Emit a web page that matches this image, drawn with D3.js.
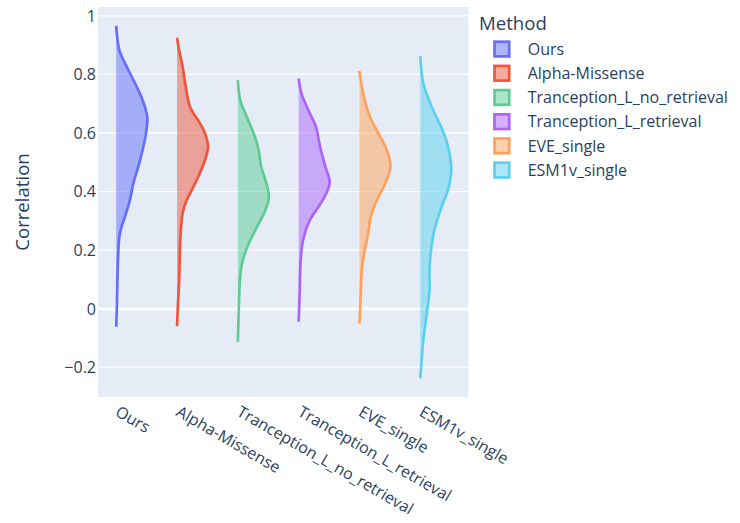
<!DOCTYPE html>
<html>
<head>
<meta charset="utf-8">
<script src="https://cdn.jsdelivr.net/npm/d3@7"></script>
<style>
  body { margin: 0; background: #fff; }
  svg { display: block; font-family: "Open Sans", verdana, arial, sans-serif; }
</style>
</head>
<body>
<svg id="chart" width="740" height="523"></svg>
<script>
// categories and palette
var categories = ['Ours', 'Alpha-Missense', 'Tranception_L_no_retrieval',
                  'Tranception_L_retrieval', 'EVE_single', 'ESM1v_single'];
var colors = ['#636efa', '#EF553B', '#5ccb94', '#ab63fa', '#FFA15A', '#5ccfee'];
var yTicks = [-0.2, 0, 0.2, 0.4, 0.6, 0.8, 1];

// density profiles: [correlation, relative density]
var oursProfile = [[0.966, 0], [0.883, 0.1], [0.826, 0.34], [0.758, 0.66], [0.712, 0.85],
    [0.655, 1.0], [0.599, 0.96], [0.542, 0.85], [0.485, 0.71], [0.428, 0.55], [0.371, 0.44],
    [0.314, 0.28], [0.28, 0.17], [0.246, 0.1], [0.19, 0.065], [0.088, 0.035], [0.007, 0.02], [-0.061, 0]];
var alphaProfile = [[0.925, 0], [0.883, 0.065], [0.826, 0.18], [0.758, 0.28], [0.689, 0.42],
    [0.633, 0.74], [0.599, 0.9], [0.553, 1.0], [0.507, 0.9], [0.45, 0.68], [0.394, 0.42],
    [0.371, 0.31], [0.326, 0.18], [0.28, 0.13], [0.223, 0.1], [0.087, 0.065], [0.007, 0.025], [-0.059, 0]];
var tranNoRetProfile = [[0.78, 0], [0.712, 0.075], [0.667, 0.24], [0.599, 0.51], [0.542, 0.67],
    [0.485, 0.75], [0.44, 0.89], [0.382, 1.0], [0.337, 0.89], [0.28, 0.62], [0.223, 0.35],
    [0.166, 0.16], [0.109, 0.075], [0.03, 0.04], [-0.113, 0]];
var tranRetProfile = [[0.786, 0], [0.735, 0.09], [0.667, 0.36], [0.621, 0.56], [0.553, 0.69],
    [0.485, 0.86], [0.433, 1.0], [0.394, 0.89], [0.348, 0.64], [0.303, 0.36], [0.234, 0.14],
    [0.166, 0.066], [0.053, 0.033], [-0.044, 0]];
var eveProfile = [[0.812, 0], [0.735, 0.12], [0.655, 0.34], [0.599, 0.61], [0.542, 0.88],
    [0.485, 1.0], [0.428, 0.83], [0.371, 0.56], [0.314, 0.36], [0.257, 0.28], [0.2, 0.17],
    [0.143, 0.085], [0.03, 0.035], [-0.05, 0]];
var esmProfile = [[0.862, 0], [0.769, 0.1], [0.689, 0.37], [0.599, 0.76], [0.542, 0.92],
    [0.473, 1.0], [0.405, 0.89], [0.337, 0.65], [0.257, 0.43], [0.143, 0.3], [0.064, 0.3],
    [-0.016, 0.21], [-0.107, 0.1], [-0.175, 0.045], [-0.237, 0]];
var profiles = [oursProfile, alphaProfile, tranNoRetProfile, tranRetProfile, eveProfile, esmProfile];

var svg = d3.select('#chart');
var plot = {left: 98, right: 468.3, top: 7, bottom: 397};
var textColor = '#2a3f5f';
var halfWidth = 0.51; // max violin width, in category units

var x = d3.scaleLinear().domain([-0.3, 5.79]).range([plot.left, plot.right]);
var y = d3.scaleLinear().domain([-0.301, 1.03]).range([plot.bottom, plot.top]);

// background
svg.append('rect')
    .attr('x', plot.left).attr('y', plot.top)
    .attr('width', plot.right - plot.left).attr('height', plot.bottom - plot.top)
    .attr('fill', '#E5ECF6');

// horizontal grid
svg.append('g').selectAll('line').data(yTicks).enter().append('line')
    .attr('x1', plot.left).attr('x2', plot.right)
    .attr('y1', function(d) { return y(d); }).attr('y2', function(d) { return y(d); })
    .attr('stroke', '#fff')
    .attr('stroke-width', function(d) { return d === 0 ? 2.67 : 1.33; });

// y tick labels
svg.append('g').selectAll('text').data(yTicks).enter().append('text')
    .attr('x', 96).attr('y', function(d) { return y(d); })
    .attr('dy', '0.36em')
    .attr('text-anchor', 'end')
    .attr('font-size', 16).attr('fill', textColor)
    .text(function(d) { return d === 0 ? '0' : d3.format('.1f')(d).replace('-', '\u2212').replace('1.0', '1'); });

// y title
svg.append('text')
    .attr('transform', 'translate(29,' + ((plot.top + plot.bottom) / 2) + ') rotate(-90)')
    .attr('text-anchor', 'middle')
    .attr('font-size', 18.6).attr('fill', textColor)
    .text('Correlation');

// violins (positive side only)
var violins = svg.append('g');
profiles.forEach(function(prof, i) {
    var base = x(i);
    var area = d3.area()
        .y(function(d) { return y(d[0]); })
        .x0(base)
        .x1(function(d) { return x(i + d[1] * halfWidth); })
        .curve(d3.curveCatmullRom.alpha(0.5));
    var line = d3.line()
        .y(function(d) { return y(d[0]); })
        .x(function(d) { return x(i + d[1] * halfWidth); })
        .curve(d3.curveCatmullRom.alpha(0.5));

    violins.append('path')
        .attr('d', area(prof))
        .attr('fill', colors[i]).attr('fill-opacity', 0.5);
    violins.append('path')
        .attr('d', line(prof))
        .attr('fill', 'none')
        .attr('stroke', colors[i]).attr('stroke-width', 2.67)
        .attr('stroke-linejoin', 'round');
});

// x tick labels, angled
svg.append('g').selectAll('text').data(categories).enter().append('text')
    .attr('transform', function(d, i) {
        return 'translate(' + (x(i) - 2) + ',415) rotate(30)';
    })
    .attr('text-anchor', 'start')
    .attr('font-size', 16).attr('fill', textColor)
    .text(function(d) { return d; });

// legend
var legend = svg.append('g');
legend.append('text')
    .attr('x', 479).attr('y', 30)
    .attr('font-size', 18.6).attr('fill', textColor)
    .text('Method');

var items = legend.selectAll('g.item').data(categories).enter().append('g')
    .attr('class', 'item')
    .attr('transform', function(d, i) { return 'translate(0,' + (49 + i * 24.2) + ')'; });
items.append('rect')
    .attr('x', 494.5).attr('y', -7.3)
    .attr('width', 14.7).attr('height', 14.7)
    .attr('fill', function(d, i) { return colors[i]; }).attr('fill-opacity', 0.5)
    .attr('stroke', function(d, i) { return colors[i]; }).attr('stroke-width', 2.67);
items.append('text')
    .attr('x', 527.7).attr('y', 0).attr('dy', '0.36em')
    .attr('font-size', 16).attr('fill', textColor)
    .text(function(d) { return d; });
</script>
</body>
</html>
